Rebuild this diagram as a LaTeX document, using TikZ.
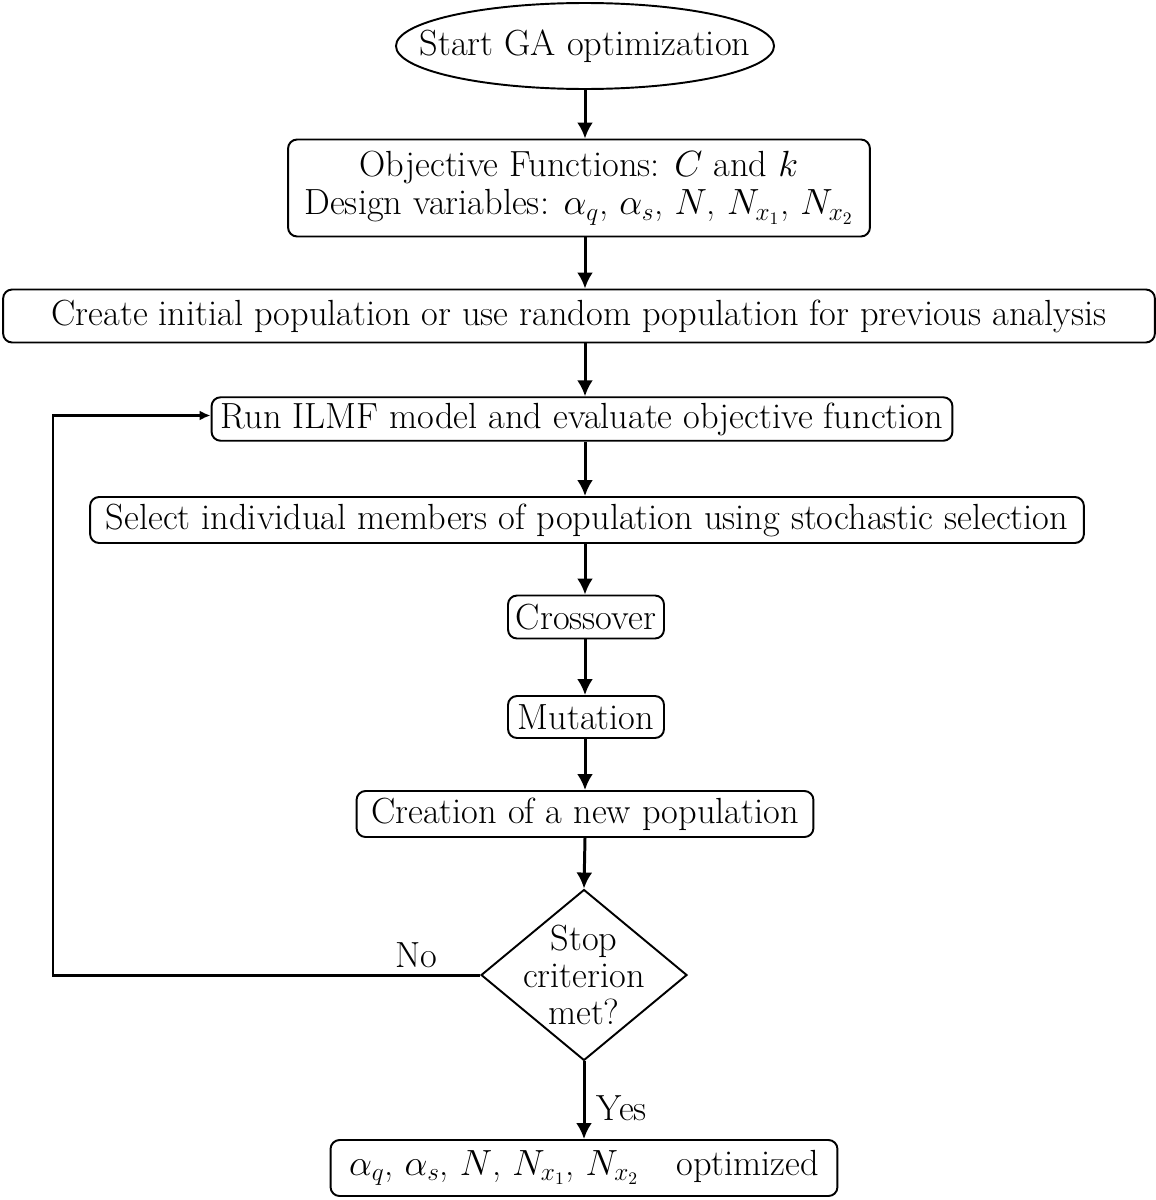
\documentclass[tikz,border=0pt]{standalone}
\usepackage{amsmath}
\usetikzlibrary{shapes.geometric,arrows.meta,positioning}
\tikzstyle{arrow} = [line width=1.7pt,-{Latex[length=3.2mm,width=3.2mm]}]

\begin{document}
\begin{tikzpicture}[x=0.02cm,y=-0.02cm,font=\fontsize{20.7}{26}\selectfont,
        stepbox/.style={rectangle,draw,line width=1.1pt,rounded corners=1.8mm,inner xsep=4pt,inner ysep=3pt},
        startnode/.style={ellipse,draw,line width=1.1pt,minimum width=7.5cm,minimum height=1.72cm,inner xsep=-18pt,inner ysep=0pt},
        decision/.style={diamond,draw,line width=1.1pt,minimum width=4.12cm,minimum height=3.42cm,inner sep=-16pt,shape aspect=1.2,align=center}]
    \useasboundingbox (0,0) rectangle (1156,1200);
    % \node [options] (name) at (x,y) {text};
    \node[startnode] (start) at (585,46) {Start GA optimization};
    \node[stepbox,align=center,minimum width=11.64cm,minimum height=1.94cm] (obj) at (579,188)
        {Objective Functions: $C$ and $k$\\[-4pt] Design variables: $\alpha_q$, $\alpha_s$, $N$, $N_{x_1}$, $N_{x_2}$};
    \node[stepbox,minimum width=23.04cm,minimum height=1.06cm] (init) at (579,316)
        {Create initial population or use random population for previous analysis};
    \node[stepbox,minimum width=14.82cm,minimum height=0.86cm] (run) at (582,419)
        {Run ILMF model and evaluate objective function};
    \node[stepbox,minimum width=19.88cm,minimum height=0.92cm] (select) at (587,520)
        {Select individual members of population using stochastic selection};
    \node[stepbox,minimum width=3.12cm,minimum height=0.86cm,inner xsep=2pt] (cross) at (586,617) {Crossover};
    \node[stepbox,minimum width=3.12cm,minimum height=0.84cm,inner xsep=2pt] (mut) at (586,717) {Mutation};
    \node[stepbox,minimum width=9.14cm,minimum height=0.92cm] (create) at (585,814)
        {Creation of a new population\hspace{0.2cm}};
    \node[decision] (stop) at (584,975) {Stop\\[-5pt] criterion\\[-5pt] met?};
    \node[stepbox,minimum width=10.14cm,minimum height=1.12cm] (result) at (584,1168)
        {$\alpha_q$, $\alpha_s$, $N$, $N_{x_1}$, $N_{x_2}$\hspace{0.75cm}optimized};
    \coordinate (loop) at (53,975);

    % main flow
    \draw[arrow] (start.south) -- (obj.north -| start);
    \draw[arrow] (obj.south -| start) -- (init.north -| start);
    \draw[arrow] (init.south -| start) -- (run.north -| start);
    \draw[arrow] (run.south -| start) -- (select.north -| start);
    \draw[arrow] (select.south -| start) -- (cross.north -| start);
    \draw[arrow] (cross.south -| start) -- (mut.north -| start);
    \draw[arrow] (mut.south -| start) -- (create.north -| start);
    \draw[arrow] (create.south -| start) -- (stop.north);

    % stop criterion: No -> back to run, Yes -> result
    \draw[line width=1.7pt,-{Latex[length=2.2mm,width=2mm]}] (stop.west) -- node[above,pos=0.15] {No} (loop) |- ([yshift=2pt]run.west);
    \draw[arrow] (stop.south) -- node[right,xshift=3pt,pos=0.6] {Yes} (result.north -| stop);
\end{tikzpicture}
\end{document}
